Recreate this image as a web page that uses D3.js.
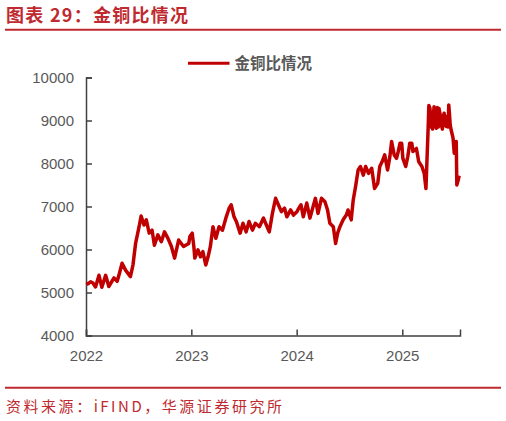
<!DOCTYPE html>
<html>
<head>
<meta charset="utf-8">
<script src="https://cdn.jsdelivr.net/npm/d3@7"></script>
<style>
  body { margin: 0; background: #fff; }
  svg { display: block; }
</style>
</head>
<body>
<svg width="506" height="421"></svg>
<script>
// 金铜比 values
const dates = [
  "2022-01-04","2022-01-08","2022-01-17","2022-01-25","2022-02-03","2022-02-15","2022-02-25","2022-03-10",
  "2022-03-21","2022-04-08","2022-04-19","2022-04-27","2022-05-06","2022-05-18","2022-06-04","2022-06-13","2022-06-22",
  "2022-07-04","2022-07-11","2022-07-21","2022-07-29","2022-08-08","2022-08-18","2022-08-26","2022-09-07",
  "2022-09-19","2022-09-30","2022-10-12","2022-10-24","2022-11-04","2022-11-18","2022-12-05","2022-12-23",
  "2022-12-27","2023-01-04","2023-01-10","2023-01-13","2023-01-24","2023-02-02","2023-02-10","2023-02-20",
  "2023-02-28","2023-03-08","2023-03-17","2023-03-27","2023-04-07","2023-04-19","2023-05-02","2023-05-12",
  "2023-05-19","2023-05-29","2023-06-06","2023-06-19","2023-06-29","2023-07-10","2023-07-20","2023-08-01",
  "2023-08-11","2023-08-25","2023-09-08","2023-09-18","2023-09-28","2023-10-09","2023-10-20","2023-10-27",
  "2023-11-09","2023-11-20","2023-11-28","2023-12-11","2023-12-21","2024-01-02","2024-01-05","2024-01-16",
  "2024-01-24","2024-02-05","2024-02-16","2024-02-27","2024-03-06","2024-03-15","2024-03-27","2024-04-08",
  "2024-04-17","2024-04-25","2024-05-07","2024-05-15","2024-05-22","2024-05-30","2024-06-10","2024-06-21",
  "2024-06-27","2024-07-08","2024-07-15","2024-07-23","2024-08-01","2024-08-09","2024-08-19","2024-08-27",
  "2024-09-06","2024-09-17","2024-09-27","2024-10-08","2024-10-15","2024-10-23","2024-11-01","2024-11-11",
  "2024-11-19","2024-11-25","2024-12-04","2024-12-12","2024-12-18","2024-12-24","2024-12-30","2025-01-03",
  "2025-01-13","2025-01-20","2025-01-27","2025-02-03","2025-02-07","2025-02-19","2025-02-27","2025-03-10",
  "2025-03-18","2025-03-24","2025-04-01","2025-04-03","2025-04-07","2025-04-09","2025-04-11","2025-04-14",
  "2025-04-16","2025-04-21","2025-04-23","2025-04-25","2025-04-29","2025-05-02","2025-05-06","2025-05-08",
  "2025-05-12","2025-05-16","2025-05-20","2025-05-22","2025-05-26","2025-05-29","2025-06-03","2025-06-05",
  "2025-06-09","2025-06-11","2025-06-13","2025-06-16","2025-06-18","2025-06-26","2025-06-30","2025-07-07",
  "2025-07-09","2025-07-14","2025-07-17"
];
const ratio = [
  5240,5200,5250,5220,5130,5400,5120,5400,
  5140,5340,5260,5450,5680,5520,5370,5650,6150,
  6530,6780,6570,6690,6380,6450,6100,6340,
  6180,6410,6260,6070,5800,6220,6070,6140,
  6300,6380,6050,5800,5990,5830,5950,5640,
  5830,6070,6530,6260,6530,6450,6760,6960,
  7040,6760,6650,6380,6610,6410,6650,6450,
  6610,6530,6730,6570,6410,6840,7190,7080,
  6880,6960,6760,6920,6800,6880,6920,7040,
  6760,7080,6730,7000,7190,6840,7190,7110,
  6920,6610,6530,6140,6380,6530,6690,6800,
  6920,6690,7150,7460,7850,7930,7730,7930,
  7770,7890,7420,7540,7930,8040,8200,7850,
  8160,8510,8200,8120,8280,8470,8470,8120,
  7930,8160,8470,8470,8280,8350,8040,7930,
  7770,7420,8900,9350,9280,8850,9200,8970,
  8800,9320,9100,8900,8820,9300,8850,9280,
  9150,8900,8800,9050,9170,8900,8860,9100,
  8850,9360,9200,8900,8820,8590,8240,8510,
  7500,7620,7720
];
const yTicks = [4000, 5000, 6000, 7000, 8000, 9000, 10000];
const xTickYears = ["2022", "2023", "2024", "2025"];
const seriesName = "金铜比情况";
const titleText = "图表 29：金铜比情况";
const sourceText = "资料来源：iFIND，华源证券研究所";

const parse = d3.timeParse("%Y-%m-%d");
const data = dates.map((d, i) => ({ date: parse(d), value: ratio[i] }));

const svg = d3.select("svg");
const red = "#c00000";
const titleRed = "#be2a2f";
const grey = "#595959";

// header
svg.append("text")
    .attr("x", 6).attr("y", 22)
    .attr("fill", titleRed)
    .attr("font-family", "Noto Sans CJK SC")
    .attr("font-weight", "bold")
    .attr("font-size", 18)
    .attr("textLength", 182)
    .attr("lengthAdjust", "spacing")
    .text(titleText);
svg.append("line")
    .attr("x1", 5).attr("x2", 501).attr("y1", 29.7).attr("y2", 29.7)
    .attr("stroke", titleRed).attr("stroke-width", 2);

// scales
const x = d3.scaleTime()
    .domain([parse("2022-01-01"), parse("2025-07-20")])
    .range([86, 460]);
const y = d3.scaleLinear()
    .domain([4000, 10000])
    .range([335.5, 77.5]);

// y axis
const yAxis = svg.append("g")
    .attr("transform", "translate(86,0)")
    .call(d3.axisLeft(y).tickValues(yTicks).tickSize(-6).tickPadding(12).tickFormat(d3.format("d")));
yAxis.select(".domain").attr("stroke", "#404040").attr("stroke-width", 1.5);
yAxis.selectAll(".tick line").attr("stroke", "#404040").attr("stroke-width", 1.5);
yAxis.selectAll(".tick text")
    .attr("fill", grey)
    .attr("font-family", "Liberation Sans, Arial, sans-serif")
    .attr("font-size", 15);

// x axis
const xAxis = svg.append("g")
    .attr("transform", "translate(0,335.5)")
    .call(d3.axisBottom(x)
        .tickValues(xTickYears.map(t => parse(t + "-01-01")))
        .tickSize(-6).tickPadding(15)
        .tickFormat(d3.timeFormat("%Y")));
xAxis.select(".domain").attr("stroke", "#404040").attr("stroke-width", 1.5);
xAxis.selectAll(".tick line").attr("stroke", "#404040").attr("stroke-width", 1.5);
xAxis.selectAll(".tick text")
    .attr("fill", grey)
    .attr("font-family", "Liberation Sans, Arial, sans-serif")
    .attr("font-size", 15);

// series line
const line = d3.line()
    .x(d => x(d.date))
    .y(d => y(d.value));
svg.append("path")
    .datum(data)
    .attr("d", line)
    .attr("fill", "none")
    .attr("stroke", red)
    .attr("stroke-width", 3.5)
    .attr("stroke-linejoin", "round");

// legend
const lg = svg.append("g").attr("transform", "translate(188,63.3)");
lg.append("line")
    .attr("x1", 0).attr("x2", 41.5)
    .attr("stroke", red).attr("stroke-width", 3);
lg.append("text")
    .attr("x", 46.5).attr("y", 6)
    .attr("fill", grey)
    .attr("font-family", "Noto Sans CJK SC")
    .attr("font-weight", "bold")
    .attr("font-size", 15.5)
    .text(seriesName);

// footer
svg.append("line")
    .attr("x1", 5).attr("x2", 501).attr("y1", 387.7).attr("y2", 387.7)
    .attr("stroke", titleRed).attr("stroke-width", 2);
svg.append("text")
    .attr("x", 6).attr("y", 412)
    .attr("fill", titleRed)
    .attr("font-family", "Noto Sans CJK SC")
    .attr("font-size", 15)
    .attr("textLength", 276)
    .attr("lengthAdjust", "spacing")
    .text(sourceText);
</script>
</body>
</html>
